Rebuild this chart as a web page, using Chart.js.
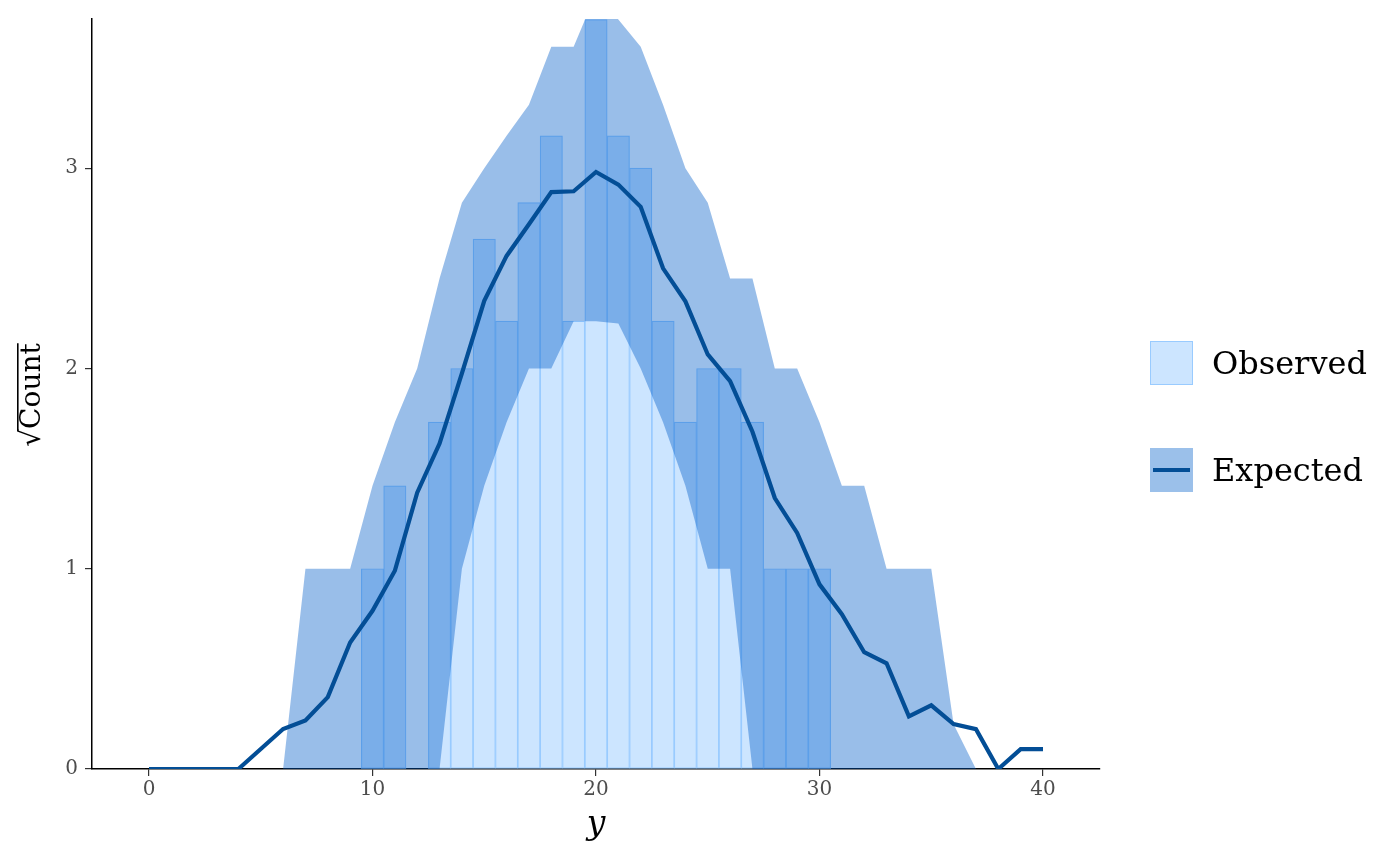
<!DOCTYPE html>
<html>
<head>
<meta charset="utf-8">
<script src="https://cdn.jsdelivr.net/npm/chart.js@4.4.1/dist/chart.umd.min.js"></script>
<style>
  body { margin: 0; background: #fff; }
  #wrap { position: relative; width: 1400px; height: 866px; }
  .key { position: absolute; left: 1150px; width: 43px; height: 44px; box-sizing: border-box; }
  .lab { position: absolute; left: 1212px; font-family: "DejaVu Serif", serif; font-size: 32px; color: #000; line-height: 44px; }
</style>
</head>
<body>
<div id="wrap">
  <canvas id="rootogram" width="1400" height="866"></canvas>
  <div class="key" style="top:341px; background:#cce5ff; border:1px solid #99cbff;"></div>
  <div class="lab" style="top:341px;">Observed</div>
  <div class="key" style="top:448px; background:#9bc0ea;">
    <div style="position:absolute; left:3px; right:3px; top:20px; height:4px; background:#034e96;"></div>
  </div>
  <div class="lab" style="top:448px;">Expected</div>
</div>
<script>
// values on the sqrt(count) scale
const xValues = [0, 1, 2, 3, 4, 5, 6, 7, 8, 9, 10, 11, 12, 13, 14, 15, 16, 17, 18, 19, 20,
                 21, 22, 23, 24, 25, 26, 27, 28, 29, 30, 31, 32, 33, 34, 35, 36, 37, 38, 39, 40];
const expected = [0, 0, 0, 0, 0, 0.1, 0.2, 0.243, 0.359, 0.632, 0.79, 0.99, 1.38, 1.625, 1.975, 2.338,
                  2.562, 2.72, 2.881, 2.885, 2.981, 2.918, 2.807, 2.5, 2.335, 2.07, 1.937, 1.684, 1.353,
                  1.179, 0.922, 0.773, 0.583, 0.528, 0.263, 0.318, 0.224, 0.199, 0, 0.099, 0.099];
const upper = [0, 0, 0, 0, 0, 0, 0, 1, 1, 1, 1.414, 1.732, 2, 2.449, 2.828, 3, 3.162, 3.317, 3.606,
               3.606, 3.873, 3.742, 3.606, 3.317, 3, 2.828, 2.449, 2.449, 2, 2, 1.732, 1.414, 1.414,
               1, 1, 1, 0.224, 0, 0, 0, 0];
const lower = [0, 0, 0, 0, 0, 0, 0, 0, 0, 0, 0, 0, 0, 0, 1, 1.414, 1.732, 2, 2, 2.236, 2.236, 2.225,
               2, 1.732, 1.414, 1, 1, 0, 0, 0, 0, 0, 0, 0, 0, 0, 0, 0, 0, 0, 0];
const obsX = [10, 11, 12, 13, 14, 15, 16, 17, 18, 19, 20, 21, 22, 23, 24, 25, 26, 27, 28, 29, 30];
const observed = [1, 1.414, 0, 1.732, 2, 2.646, 2.236, 2.828, 3.162, 2.236, 3.742, 3.162, 3,
                  2.236, 1.732, 2, 2, 1.732, 1, 1, 1];
const xTicks = [0, 10, 20, 30, 40];
const yTicks = [0, 1, 2, 3];

const serif = "DejaVu Serif";

const yTitle = {
  id: "yTitle",
  afterDraw(chart) {
    const ctx = chart.ctx;
    ctx.save();
    ctx.translate(30, 395);
    ctx.rotate(-Math.PI / 2);
    ctx.font = "28px '" + serif + "'";
    ctx.fillStyle = "#000";
    ctx.textBaseline = "alphabetic";
    const wRoot = ctx.measureText("\u221A").width;
    const wWord = ctx.measureText("Count").width;
    const x0 = -(wRoot + wWord) / 2;
    const base = 10;
    ctx.fillText("\u221A", x0, base);
    ctx.fillText("Count", x0 + wRoot, base);
    const top = ctx.measureText("\u221A").actualBoundingBoxAscent;
    ctx.strokeStyle = "#000";
    ctx.lineWidth = 1.6;
    ctx.beginPath();
    ctx.moveTo(x0 + wRoot - 2, base - top + 0.8);
    ctx.lineTo(x0 + wRoot + wWord, base - top + 0.8);
    ctx.stroke();
    ctx.restore();
  }
};

new Chart(document.getElementById("rootogram"), {
  type: "line",
  data: {
    datasets: [
      {
        label: "Expected",
        data: xValues.map((x, i) => ({ x: x, y: expected[i] })),
        borderColor: "#034e96",
        borderWidth: 4.2,
        pointRadius: 0,
        tension: 0,
        fill: false,
        order: 0,
      },
      {
        label: "upper",
        data: xValues.map((x, i) => ({ x: x, y: upper[i] })),
        borderColor: "rgba(0,0,0,0)",
        borderWidth: 0,
        pointRadius: 0,
        tension: 0,
        fill: "+1",
        backgroundColor: "rgba(0,92,200,0.4)",
        order: 1,
      },
      {
        label: "lower",
        data: xValues.map((x, i) => ({ x: x, y: lower[i] })),
        borderColor: "rgba(0,0,0,0)",
        borderWidth: 0,
        pointRadius: 0,
        tension: 0,
        fill: false,
        order: 2,
      },
      {
        type: "bar",
        label: "Observed",
        data: obsX.map((x, i) => ({ x: x, y: observed[i] })),
        backgroundColor: "#cce5ff",
        borderColor: "#99cbff",
        borderWidth: 1.2,
        borderSkipped: false,
        barPercentage: 1,
        categoryPercentage: 1,
        order: 3,
      },
    ],
  },
  options: {
    responsive: false,
    animation: false,
    devicePixelRatio: 1,
    layout: { padding: { left: 0, right: 300, top: 15, bottom: 0 } },
    plugins: { legend: { display: false }, tooltip: { enabled: false } },
    scales: {
      x: {
        type: "linear",
        min: -2.55,
        max: 42.55,
        offset: false,
        afterBuildTicks: (s) => { s.ticks = xTicks.map((v) => ({ value: v })); },
        afterFit: (s) => { s.height = 97; },
        grid: { drawOnChartArea: false, drawTicks: true, tickLength: 7, color: "#333", lineWidth: 1.2, offset: false },
        border: { display: true, color: "#000", width: 1.5 },
        ticks: { color: "#4d4d4d", font: { family: serif, size: 20 }, padding: 2, maxRotation: 0, autoSkip: false },
        title: { display: true, text: "y", color: "#000", font: { family: serif, size: 33, style: "italic" }, padding: { top: 0, bottom: 21 } },
      },
      y: {
        type: "linear",
        min: 0,
        max: 3.745,
        afterBuildTicks: (s) => { s.ticks = yTicks.map((v) => ({ value: v })); },
        afterFit: (s) => { s.width = 92; },
        grid: { drawOnChartArea: false, drawTicks: true, tickLength: 7, color: "#333", lineWidth: 1.2 },
        border: { display: true, color: "#000", width: 1.5 },
        ticks: { color: "#4d4d4d", font: { family: serif, size: 20 }, padding: 7 },
        title: { display: false },
      },
    },
  },
  plugins: [yTitle],
});
</script>
</body>
</html>
